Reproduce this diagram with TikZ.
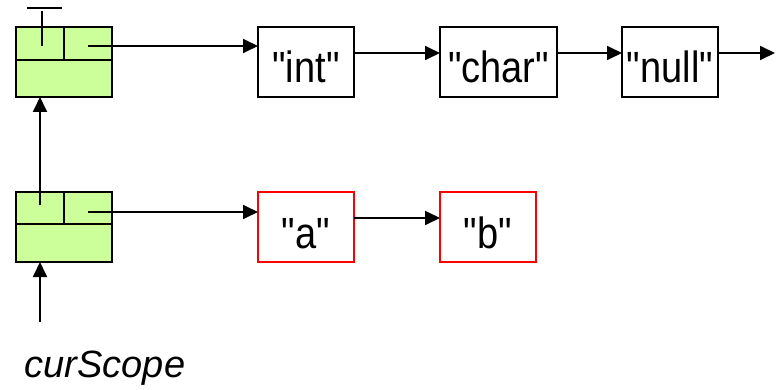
\documentclass[tikz,border=0pt]{standalone}
\usepackage{fontspec}
\setmainfont{Liberation Sans}[Ligatures=TeXOff]
\usepackage{xcolor}
\definecolor{scopeGreen}{HTML}{CCFF99}
\usetikzlibrary{arrows.meta}

% tall, narrow lettering of the names
\newcommand{\nm}[1]{\scalebox{1}[1.15]{#1}}

\begin{document}
\begin{tikzpicture}[x=1pt, y=-1pt,
    ptr/.style={-{Triangle[length=15pt,width=14pt]}, line width=1.8pt},
    scopebox/.style={draw, line width=1.5pt, fill=scopeGreen, minimum width=96pt,
                     minimum height=70pt, inner sep=0pt, outer sep=0pt},
    namebox/.style={draw, line width=1.2pt, minimum height=70pt, inner sep=0pt,
                    outer sep=0pt, text height=42pt, text depth=0pt,
                    font=\fontsize{38}{42}\selectfont},
    localbox/.style={namebox, draw=red}]
  \useasboundingbox (0,0) rectangle (778,390);

  % ---------------- the two scopes ----------------
  \node[scopebox] (outer) at (64,62) {};
  \node[scopebox] (inner) at (64,227) {};
  \draw[line width=1.5pt] (16,60) -- (112,60);
  \draw[line width=1.5pt] (64,27) -- (64,60);
  \draw[line width=1.5pt] (16,224) -- (112,224);
  \draw[line width=1.5pt] (64,192) -- (64,224);

  % the outer scope has no parent: a grounded pointer
  \coordinate (outerUp) at (42,46);
  \coordinate (ground) at (42,11);
  \draw[line width=1.5pt] (outerUp) -- (ground);
  \draw[line width=1.2pt] (27,8) -- (62,8);

  % ---------------- the names ----------------
  \node[namebox, minimum width=96pt]  (int)  at (306,62)   {\nm{"int"}};
  \node[namebox, minimum width=117pt] (char) at (498.5,62) {\nm{"char"}};
  \node[namebox, minimum width=96pt]  (null) at (670,62)   {\nm{"null"}};
  \node[localbox, minimum width=96pt] (a)    at (306,227)  {\nm{"a"}};
  \node[localbox, minimum width=96pt] (b)    at (488,227)  {\nm{"b"}};

  % ---------------- the pointers ----------------
  \coordinate (outerList) at (88,46);
  \coordinate (innerList) at (88,212);
  \coordinate (innerUp)   at (40,205);
  \coordinate (chainEnd)  at (775,53);
  \draw[ptr] (outerList) -- (outerList -| int.west);
  \draw[ptr] (innerList) -- (innerList -| a.west);
  \draw[ptr] ([yshift=9pt]int.east)  -- ([yshift=9pt]char.west);
  \draw[ptr] ([yshift=9pt]char.east) -- ([yshift=9pt]null.west);
  \draw[ptr] ([yshift=9pt]null.east) -- (chainEnd);
  \draw[ptr] ([yshift=9pt]a.east)    -- ([yshift=9pt]b.west);
  \draw[ptr] (innerUp) -- (innerUp |- outer.south);

  % ---------------- curScope ----------------
  \node[anchor=base, inner sep=0pt, font=\fontsize{38}{42}\selectfont\itshape]
    (cur) at (105,377) {curScope};
  \coordinate (curTail) at (40,322);
  \draw[ptr] (curTail) -- (curTail |- inner.south);
\end{tikzpicture}
\end{document}
